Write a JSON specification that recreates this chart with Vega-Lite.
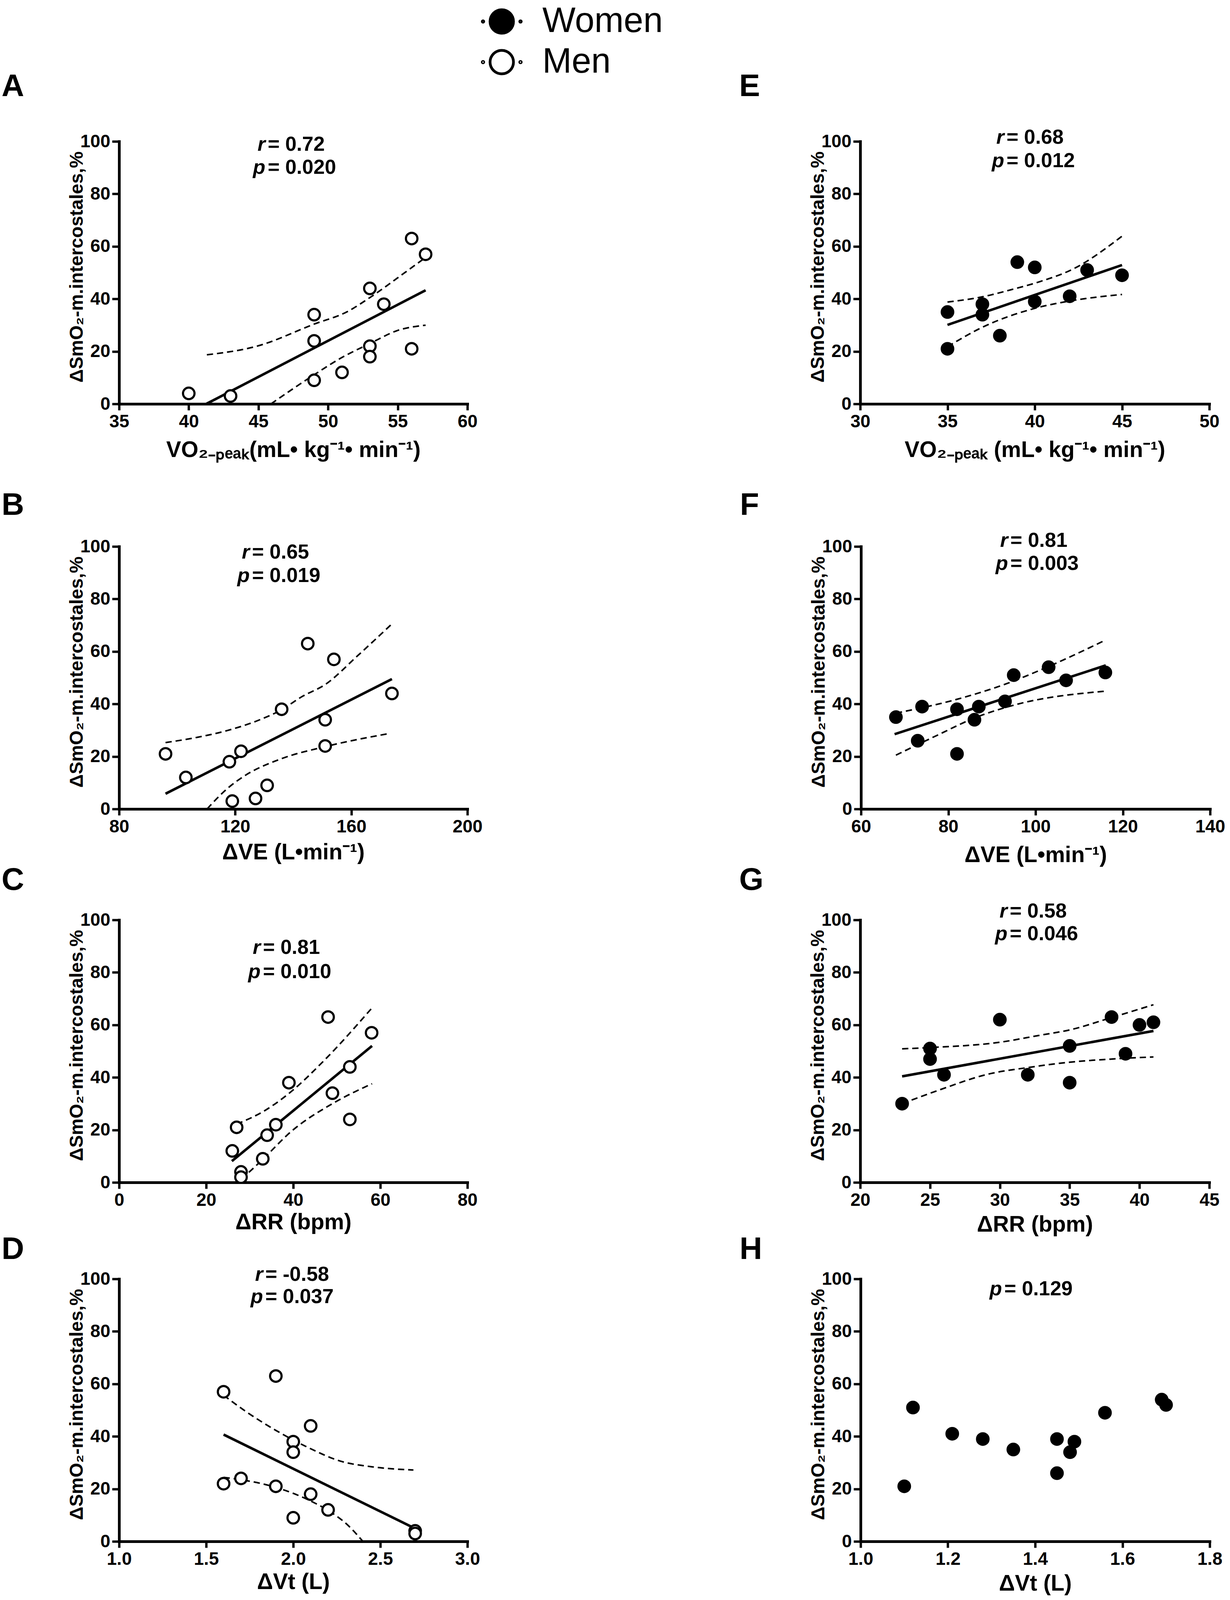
{
  "$schema": "https://vega.github.io/schema/vega-lite/v6.json",
  "description": "Correlations of delta SmO2 in m. intercostales with VO2-peak, VE, RR and Vt, men (A-D) and women (E-H).",
  "autosize": {"type": "pad"},
  "padding": {"left": 4, "top": 10, "right": 10, "bottom": 2},
  "background": "white",
  "datasets": {
    "points": [
      {"panel": "A", "sex": "Men", "x": 40, "y": 4},
      {"panel": "A", "sex": "Men", "x": 43, "y": 3},
      {"panel": "A", "sex": "Men", "x": 49, "y": 34},
      {"panel": "A", "sex": "Men", "x": 49, "y": 24},
      {"panel": "A", "sex": "Men", "x": 49, "y": 9},
      {"panel": "A", "sex": "Men", "x": 51, "y": 12},
      {"panel": "A", "sex": "Men", "x": 53, "y": 44},
      {"panel": "A", "sex": "Men", "x": 53, "y": 22},
      {"panel": "A", "sex": "Men", "x": 53, "y": 18},
      {"panel": "A", "sex": "Men", "x": 54, "y": 38},
      {"panel": "A", "sex": "Men", "x": 56, "y": 63},
      {"panel": "A", "sex": "Men", "x": 56, "y": 21},
      {"panel": "A", "sex": "Men", "x": 57, "y": 57},
      {"panel": "B", "sex": "Men", "x": 96, "y": 21},
      {"panel": "B", "sex": "Men", "x": 103, "y": 12},
      {"panel": "B", "sex": "Men", "x": 118, "y": 18},
      {"panel": "B", "sex": "Men", "x": 122, "y": 22},
      {"panel": "B", "sex": "Men", "x": 119, "y": 3},
      {"panel": "B", "sex": "Men", "x": 127, "y": 4},
      {"panel": "B", "sex": "Men", "x": 131, "y": 9},
      {"panel": "B", "sex": "Men", "x": 136, "y": 38},
      {"panel": "B", "sex": "Men", "x": 145, "y": 63},
      {"panel": "B", "sex": "Men", "x": 154, "y": 57},
      {"panel": "B", "sex": "Men", "x": 151, "y": 34},
      {"panel": "B", "sex": "Men", "x": 151, "y": 24},
      {"panel": "B", "sex": "Men", "x": 174, "y": 44},
      {"panel": "C", "sex": "Men", "x": 27, "y": 21},
      {"panel": "C", "sex": "Men", "x": 26, "y": 12},
      {"panel": "C", "sex": "Men", "x": 28, "y": 4},
      {"panel": "C", "sex": "Men", "x": 28, "y": 2},
      {"panel": "C", "sex": "Men", "x": 33, "y": 9},
      {"panel": "C", "sex": "Men", "x": 34, "y": 18},
      {"panel": "C", "sex": "Men", "x": 36, "y": 22},
      {"panel": "C", "sex": "Men", "x": 39, "y": 38},
      {"panel": "C", "sex": "Men", "x": 48, "y": 63},
      {"panel": "C", "sex": "Men", "x": 49, "y": 34},
      {"panel": "C", "sex": "Men", "x": 53, "y": 44},
      {"panel": "C", "sex": "Men", "x": 53, "y": 24},
      {"panel": "C", "sex": "Men", "x": 58, "y": 57},
      {"panel": "D", "sex": "Men", "x": 1.6, "y": 57},
      {"panel": "D", "sex": "Men", "x": 1.6, "y": 22},
      {"panel": "D", "sex": "Men", "x": 1.7, "y": 24},
      {"panel": "D", "sex": "Men", "x": 1.9, "y": 63},
      {"panel": "D", "sex": "Men", "x": 1.9, "y": 21},
      {"panel": "D", "sex": "Men", "x": 2.0, "y": 38},
      {"panel": "D", "sex": "Men", "x": 2.0, "y": 34},
      {"panel": "D", "sex": "Men", "x": 2.0, "y": 9},
      {"panel": "D", "sex": "Men", "x": 2.1, "y": 44},
      {"panel": "D", "sex": "Men", "x": 2.1, "y": 18},
      {"panel": "D", "sex": "Men", "x": 2.2, "y": 12},
      {"panel": "D", "sex": "Men", "x": 2.7, "y": 4},
      {"panel": "D", "sex": "Men", "x": 2.7, "y": 3},
      {"panel": "E", "sex": "Women", "x": 35, "y": 35},
      {"panel": "E", "sex": "Women", "x": 35, "y": 21},
      {"panel": "E", "sex": "Women", "x": 37, "y": 38},
      {"panel": "E", "sex": "Women", "x": 37, "y": 34},
      {"panel": "E", "sex": "Women", "x": 38, "y": 26},
      {"panel": "E", "sex": "Women", "x": 39, "y": 54},
      {"panel": "E", "sex": "Women", "x": 40, "y": 52},
      {"panel": "E", "sex": "Women", "x": 40, "y": 39},
      {"panel": "E", "sex": "Women", "x": 42, "y": 41},
      {"panel": "E", "sex": "Women", "x": 43, "y": 51},
      {"panel": "E", "sex": "Women", "x": 45, "y": 49},
      {"panel": "F", "sex": "Women", "x": 68, "y": 35},
      {"panel": "F", "sex": "Women", "x": 74, "y": 39},
      {"panel": "F", "sex": "Women", "x": 73, "y": 26},
      {"panel": "F", "sex": "Women", "x": 82, "y": 38},
      {"panel": "F", "sex": "Women", "x": 82, "y": 21},
      {"panel": "F", "sex": "Women", "x": 87, "y": 39},
      {"panel": "F", "sex": "Women", "x": 86, "y": 34},
      {"panel": "F", "sex": "Women", "x": 93, "y": 41},
      {"panel": "F", "sex": "Women", "x": 95, "y": 51},
      {"panel": "F", "sex": "Women", "x": 103, "y": 54},
      {"panel": "F", "sex": "Women", "x": 107, "y": 49},
      {"panel": "F", "sex": "Women", "x": 116, "y": 52},
      {"panel": "G", "sex": "Women", "x": 23, "y": 30},
      {"panel": "G", "sex": "Women", "x": 25, "y": 51},
      {"panel": "G", "sex": "Women", "x": 25, "y": 47},
      {"panel": "G", "sex": "Women", "x": 26, "y": 41},
      {"panel": "G", "sex": "Women", "x": 30, "y": 62},
      {"panel": "G", "sex": "Women", "x": 32, "y": 41},
      {"panel": "G", "sex": "Women", "x": 35, "y": 52},
      {"panel": "G", "sex": "Women", "x": 35, "y": 38},
      {"panel": "G", "sex": "Women", "x": 38, "y": 63},
      {"panel": "G", "sex": "Women", "x": 39, "y": 49},
      {"panel": "G", "sex": "Women", "x": 40, "y": 60},
      {"panel": "G", "sex": "Women", "x": 41, "y": 61},
      {"panel": "H", "sex": "Women", "x": 1.10, "y": 21},
      {"panel": "H", "sex": "Women", "x": 1.12, "y": 51},
      {"panel": "H", "sex": "Women", "x": 1.21, "y": 41},
      {"panel": "H", "sex": "Women", "x": 1.28, "y": 39},
      {"panel": "H", "sex": "Women", "x": 1.35, "y": 35},
      {"panel": "H", "sex": "Women", "x": 1.45, "y": 39},
      {"panel": "H", "sex": "Women", "x": 1.45, "y": 26},
      {"panel": "H", "sex": "Women", "x": 1.48, "y": 34},
      {"panel": "H", "sex": "Women", "x": 1.49, "y": 38},
      {"panel": "H", "sex": "Women", "x": 1.56, "y": 49},
      {"panel": "H", "sex": "Women", "x": 1.69, "y": 54},
      {"panel": "H", "sex": "Women", "x": 1.70, "y": 52}
    ],
    "fit": [
      {"panel": "A", "x": 41.26, "y": 0}, {"panel": "A", "x": 57, "y": 43.3},
      {"panel": "B", "x": 96, "y": 5.8}, {"panel": "B", "x": 174, "y": 49.5},
      {"panel": "C", "x": 25.9, "y": 8.1}, {"panel": "C", "x": 58.1, "y": 52},
      {"panel": "D", "x": 1.6, "y": 40.7}, {"panel": "D", "x": 2.7, "y": 4.9},
      {"panel": "E", "x": 35, "y": 30.1}, {"panel": "E", "x": 45, "y": 52.9},
      {"panel": "F", "x": 67.7, "y": 28.5}, {"panel": "F", "x": 116.1, "y": 54.7},
      {"panel": "G", "x": 23, "y": 40.4}, {"panel": "G", "x": 41, "y": 57.7}
    ],
    "ci": [
      {"panel": "A", "bound": "upper", "x": 41.3, "y": 18.7},
      {"panel": "A", "bound": "upper", "x": 44.9, "y": 22},
      {"panel": "A", "bound": "upper", "x": 49, "y": 30.4},
      {"panel": "A", "bound": "upper", "x": 51.4, "y": 35.2},
      {"panel": "A", "bound": "upper", "x": 53, "y": 40.5},
      {"panel": "A", "bound": "upper", "x": 55.4, "y": 49.6},
      {"panel": "A", "bound": "upper", "x": 57, "y": 55.8},
      {"panel": "A", "bound": "lower", "x": 45.9, "y": 0},
      {"panel": "A", "bound": "lower", "x": 49, "y": 11.1},
      {"panel": "A", "bound": "lower", "x": 51, "y": 17.7},
      {"panel": "A", "bound": "lower", "x": 53, "y": 23},
      {"panel": "A", "bound": "lower", "x": 55, "y": 28},
      {"panel": "A", "bound": "lower", "x": 57, "y": 30},
      {"panel": "B", "bound": "upper", "x": 96, "y": 25.3},
      {"panel": "B", "bound": "upper", "x": 106, "y": 27.1},
      {"panel": "B", "bound": "upper", "x": 117.3, "y": 29.9},
      {"panel": "B", "bound": "upper", "x": 128.5, "y": 34},
      {"panel": "B", "bound": "upper", "x": 135.8, "y": 37.7},
      {"panel": "B", "bound": "upper", "x": 143, "y": 42.8},
      {"panel": "B", "bound": "upper", "x": 151, "y": 47.4},
      {"panel": "B", "bound": "upper", "x": 162.2, "y": 58.4},
      {"panel": "B", "bound": "upper", "x": 173.7, "y": 70.2},
      {"panel": "B", "bound": "lower", "x": 110.3, "y": 0},
      {"panel": "B", "bound": "lower", "x": 117.3, "y": 7.8},
      {"panel": "B", "bound": "lower", "x": 122.9, "y": 12.4},
      {"panel": "B", "bound": "lower", "x": 135.3, "y": 18.9},
      {"panel": "B", "bound": "lower", "x": 151.2, "y": 23.8},
      {"panel": "B", "bound": "lower", "x": 172.8, "y": 28.7},
      {"panel": "C", "bound": "upper", "x": 27, "y": 22.2},
      {"panel": "C", "bound": "upper", "x": 33.6, "y": 27.5},
      {"panel": "C", "bound": "upper", "x": 39.6, "y": 34.7},
      {"panel": "C", "bound": "upper", "x": 47, "y": 46.3},
      {"panel": "C", "bound": "upper", "x": 58.1, "y": 66.5},
      {"panel": "C", "bound": "lower", "x": 28.1, "y": 1.2},
      {"panel": "C", "bound": "lower", "x": 33, "y": 8.8},
      {"panel": "C", "bound": "lower", "x": 39.6, "y": 19.5},
      {"panel": "C", "bound": "lower", "x": 49.2, "y": 30.2},
      {"panel": "C", "bound": "lower", "x": 58.1, "y": 37.6},
      {"panel": "D", "bound": "upper", "x": 1.6, "y": 55.7},
      {"panel": "D", "bound": "upper", "x": 1.73, "y": 49.4},
      {"panel": "D", "bound": "upper", "x": 1.9, "y": 42.3},
      {"panel": "D", "bound": "upper", "x": 2.1, "y": 35.3},
      {"panel": "D", "bound": "upper", "x": 2.27, "y": 30.6},
      {"panel": "D", "bound": "upper", "x": 2.455, "y": 28.4},
      {"panel": "D", "bound": "upper", "x": 2.69, "y": 27.2},
      {"panel": "D", "bound": "lower", "x": 1.6, "y": 24.4},
      {"panel": "D", "bound": "lower", "x": 1.7, "y": 23.5},
      {"panel": "D", "bound": "lower", "x": 1.9, "y": 20.6},
      {"panel": "D", "bound": "lower", "x": 2.1, "y": 15.4},
      {"panel": "D", "bound": "lower", "x": 2.2, "y": 11.8},
      {"panel": "D", "bound": "lower", "x": 2.31, "y": 6.4},
      {"panel": "D", "bound": "lower", "x": 2.4, "y": 0},
      {"panel": "E", "bound": "upper", "x": 35, "y": 38.8},
      {"panel": "E", "bound": "upper", "x": 37, "y": 40.8},
      {"panel": "E", "bound": "upper", "x": 38.7, "y": 43.6},
      {"panel": "E", "bound": "upper", "x": 40.3, "y": 46.6},
      {"panel": "E", "bound": "upper", "x": 42.2, "y": 51.4},
      {"panel": "E", "bound": "upper", "x": 45, "y": 63.9},
      {"panel": "E", "bound": "lower", "x": 35, "y": 21.8},
      {"panel": "E", "bound": "lower", "x": 37, "y": 29.2},
      {"panel": "E", "bound": "lower", "x": 40, "y": 36.4},
      {"panel": "E", "bound": "lower", "x": 42, "y": 39.2},
      {"panel": "E", "bound": "lower", "x": 45, "y": 41.7},
      {"panel": "F", "bound": "upper", "x": 68, "y": 36.5},
      {"panel": "F", "bound": "upper", "x": 81.8, "y": 41.7},
      {"panel": "F", "bound": "upper", "x": 93.3, "y": 47.7},
      {"panel": "F", "bound": "upper", "x": 102.6, "y": 54},
      {"panel": "F", "bound": "upper", "x": 116.1, "y": 64.4},
      {"panel": "F", "bound": "lower", "x": 68, "y": 20.5},
      {"panel": "F", "bound": "lower", "x": 78, "y": 28.5},
      {"panel": "F", "bound": "lower", "x": 85.6, "y": 34.4},
      {"panel": "F", "bound": "lower", "x": 94.9, "y": 39.5},
      {"panel": "F", "bound": "lower", "x": 116, "y": 44.9},
      {"panel": "G", "bound": "upper", "x": 23, "y": 50.9},
      {"panel": "G", "bound": "upper", "x": 25.1, "y": 51.4},
      {"panel": "G", "bound": "upper", "x": 30, "y": 53.4},
      {"panel": "G", "bound": "upper", "x": 32.8, "y": 56},
      {"panel": "G", "bound": "upper", "x": 35, "y": 58.1},
      {"panel": "G", "bound": "upper", "x": 38, "y": 62.8},
      {"panel": "G", "bound": "upper", "x": 41, "y": 67.7},
      {"panel": "G", "bound": "lower", "x": 23, "y": 30},
      {"panel": "G", "bound": "lower", "x": 25.6, "y": 35.1},
      {"panel": "G", "bound": "lower", "x": 29.2, "y": 41.3},
      {"panel": "G", "bound": "lower", "x": 32, "y": 43.75},
      {"panel": "G", "bound": "lower", "x": 35, "y": 45.8},
      {"panel": "G", "bound": "lower", "x": 38, "y": 47},
      {"panel": "G", "bound": "lower", "x": 41, "y": 47.8}
    ],
    "annot": [
      {"panel": "A", "stat": "r", "value": "= 0.72"},
      {"panel": "A", "stat": "p", "value": "= 0.020"},
      {"panel": "B", "stat": "r", "value": "= 0.65"},
      {"panel": "B", "stat": "p", "value": "= 0.019"},
      {"panel": "C", "stat": "r", "value": "= 0.81"},
      {"panel": "C", "stat": "p", "value": "= 0.010"},
      {"panel": "D", "stat": "r", "value": "= -0.58"},
      {"panel": "D", "stat": "p", "value": "= 0.037"},
      {"panel": "E", "stat": "r", "value": "= 0.68"},
      {"panel": "E", "stat": "p", "value": "= 0.012"},
      {"panel": "F", "stat": "r", "value": "= 0.81"},
      {"panel": "F", "stat": "p", "value": "= 0.003"},
      {"panel": "G", "stat": "r", "value": "= 0.58"},
      {"panel": "G", "stat": "p", "value": "= 0.046"},
      {"panel": "H", "stat": "p", "value": "= 0.129"}
    ]
  },
  "spacing": 73,
  "vconcat": [
    {
      "spacing": 670,
      "hconcat": [
        {
          "width": 892, "height": 672,
          "title": {"text": "A", "dx": -301, "offset": 76},
          "encoding": {
            "x": {"type": "quantitative", "scale": {"domain": [35, 60], "nice": false, "zero": false},
                  "axis": {"title": "VO₂₋ₚₑₐₖ(mL• kg⁻¹• min⁻¹)", "values": [35, 40, 45, 50, 55, 60], "titlePadding": 22}},
            "y": {"type": "quantitative", "scale": {"domain": [0, 100], "nice": false},
                  "axis": {"title": "ΔSmO₂-m.intercostales,%", "values": [0, 20, 40, 60, 80, 100]}}
          },
          "layer": [
            {"data": {"name": "ci"}, "transform": [{"filter": "datum.panel === 'A'"}],
             "mark": {"type": "line", "color": "black", "strokeWidth": 4, "strokeDash": [16, 10], "interpolate": "monotone"},
             "encoding": {"x": {"field": "x"}, "y": {"field": "y"}, "detail": {"field": "bound"}}},
            {"data": {"name": "fit"}, "transform": [{"filter": "datum.panel === 'A'"}],
             "mark": {"type": "line", "color": "black", "strokeWidth": 6.5},
             "encoding": {"x": {"field": "x"}, "y": {"field": "y"}}},
            {"data": {"name": "points"}, "transform": [{"filter": "datum.panel === 'A'"}],
             "mark": {"type": "point", "shape": "circle", "filled": true, "size": 870, "stroke": "black", "strokeWidth": 5.5, "opacity": 1},
             "encoding": {"x": {"field": "x"}, "y": {"field": "y"}, "fill": {"field": "sex", "type": "nominal", "scale": {"domain": ["Women", "Men"], "range": ["black", "white"]}, "legend": {"title": null}}}},
            {"data": {"name": "annot"}, "transform": [{"filter": "datum.panel === 'A' && datum.stat === 'r'"}],
             "mark": {"type": "text", "align": "right", "baseline": "alphabetic", "fontStyle": "italic"},
             "encoding": {"x": {"datum": 45.5}, "y": {"datum": 96.5}, "text": {"field": "stat", "type": "nominal"}}},
            {"data": {"name": "annot"}, "transform": [{"filter": "datum.panel === 'A' && datum.stat === 'r'"}],
             "mark": {"type": "text", "align": "left", "baseline": "alphabetic", "dx": 6},
             "encoding": {"x": {"datum": 45.5}, "y": {"datum": 96.5}, "text": {"field": "value", "type": "nominal"}}},
            {"data": {"name": "annot"}, "transform": [{"filter": "datum.panel === 'A' && datum.stat === 'p'"}],
             "mark": {"type": "text", "align": "right", "baseline": "alphabetic", "fontStyle": "italic"},
             "encoding": {"x": {"datum": 45.5}, "y": {"datum": 87.6}, "text": {"field": "stat", "type": "nominal"}}},
            {"data": {"name": "annot"}, "transform": [{"filter": "datum.panel === 'A' && datum.stat === 'p'"}],
             "mark": {"type": "text", "align": "left", "baseline": "alphabetic", "dx": 6},
             "encoding": {"x": {"datum": 45.5}, "y": {"datum": 87.6}, "text": {"field": "value", "type": "nominal"}}}
          ]
        },
        {
          "width": 894, "height": 672,
          "title": {"text": "E", "dx": -310, "offset": 63},
          "encoding": {
            "x": {"type": "quantitative", "scale": {"domain": [30, 50], "nice": false, "zero": false},
                  "axis": {"title": "VO₂₋ₚₑₐₖ (mL• kg⁻¹• min⁻¹)", "values": [30, 35, 40, 45, 50], "titlePadding": 22}},
            "y": {"type": "quantitative", "scale": {"domain": [0, 100], "nice": false},
                  "axis": {"title": "ΔSmO₂-m.intercostales,%", "values": [0, 20, 40, 60, 80, 100]}}
          },
          "layer": [
            {"data": {"name": "ci"}, "transform": [{"filter": "datum.panel === 'E'"}],
             "mark": {"type": "line", "color": "black", "strokeWidth": 4, "strokeDash": [16, 10], "interpolate": "monotone"},
             "encoding": {"x": {"field": "x"}, "y": {"field": "y"}, "detail": {"field": "bound"}}},
            {"data": {"name": "fit"}, "transform": [{"filter": "datum.panel === 'E'"}],
             "mark": {"type": "line", "color": "black", "strokeWidth": 6.5},
             "encoding": {"x": {"field": "x"}, "y": {"field": "y"}}},
            {"data": {"name": "points"}, "transform": [{"filter": "datum.panel === 'E'"}],
             "mark": {"type": "point", "shape": "circle", "filled": true, "size": 870, "stroke": "black", "strokeWidth": 5.5, "opacity": 1},
             "encoding": {"x": {"field": "x"}, "y": {"field": "y"}, "fill": {"field": "sex", "type": "nominal", "scale": {"domain": ["Women", "Men"], "range": ["black", "white"]}, "legend": {"title": null}}}},
            {"data": {"name": "annot"}, "transform": [{"filter": "datum.panel === 'E' && datum.stat === 'r'"}],
             "mark": {"type": "text", "align": "right", "baseline": "alphabetic", "fontStyle": "italic"},
             "encoding": {"x": {"datum": 38.25}, "y": {"datum": 99.1}, "text": {"field": "stat", "type": "nominal"}}},
            {"data": {"name": "annot"}, "transform": [{"filter": "datum.panel === 'E' && datum.stat === 'r'"}],
             "mark": {"type": "text", "align": "left", "baseline": "alphabetic", "dx": 6},
             "encoding": {"x": {"datum": 38.25}, "y": {"datum": 99.1}, "text": {"field": "value", "type": "nominal"}}},
            {"data": {"name": "annot"}, "transform": [{"filter": "datum.panel === 'E' && datum.stat === 'p'"}],
             "mark": {"type": "text", "align": "right", "baseline": "alphabetic", "fontStyle": "italic"},
             "encoding": {"x": {"datum": 38.25}, "y": {"datum": 90.2}, "text": {"field": "stat", "type": "nominal"}}},
            {"data": {"name": "annot"}, "transform": [{"filter": "datum.panel === 'E' && datum.stat === 'p'"}],
             "mark": {"type": "text", "align": "left", "baseline": "alphabetic", "dx": 6},
             "encoding": {"x": {"datum": 38.25}, "y": {"datum": 90.2}, "text": {"field": "value", "type": "nominal"}}}
          ]
        }
      ]
    },
    {
      "spacing": -4,
      "vconcat": [
        {
          "spacing": 659,
          "hconcat": [
            {
              "width": 892, "height": 672,
              "title": {"text": "B", "dx": -301, "offset": 41},
              "encoding": {
                "x": {"type": "quantitative", "scale": {"domain": [80, 200], "nice": false, "zero": false},
                      "axis": {"title": "ΔVE (L•min⁻¹)", "values": [80, 120, 160, 200], "titlePadding": 15}},
                "y": {"type": "quantitative", "scale": {"domain": [0, 100], "nice": false},
                      "axis": {"title": "ΔSmO₂-m.intercostales,%", "values": [0, 20, 40, 60, 80, 100]}}
              },
              "layer": [
                {"data": {"name": "ci"}, "transform": [{"filter": "datum.panel === 'B'"}],
                 "mark": {"type": "line", "color": "black", "strokeWidth": 4, "strokeDash": [16, 10], "interpolate": "monotone"},
                 "encoding": {"x": {"field": "x"}, "y": {"field": "y"}, "detail": {"field": "bound"}}},
                {"data": {"name": "fit"}, "transform": [{"filter": "datum.panel === 'B'"}],
                 "mark": {"type": "line", "color": "black", "strokeWidth": 6.5},
                 "encoding": {"x": {"field": "x"}, "y": {"field": "y"}}},
                {"data": {"name": "points"}, "transform": [{"filter": "datum.panel === 'B'"}],
                 "mark": {"type": "point", "shape": "circle", "filled": true, "size": 870, "stroke": "black", "strokeWidth": 5.5, "opacity": 1},
                 "encoding": {"x": {"field": "x"}, "y": {"field": "y"}, "fill": {"field": "sex", "type": "nominal", "scale": {"domain": ["Women", "Men"], "range": ["black", "white"]}, "legend": {"title": null}}}},
                {"data": {"name": "annot"}, "transform": [{"filter": "datum.panel === 'B' && datum.stat === 'r'"}],
                 "mark": {"type": "text", "align": "right", "baseline": "alphabetic", "fontStyle": "italic"},
                 "encoding": {"x": {"datum": 125}, "y": {"datum": 95.4}, "text": {"field": "stat", "type": "nominal"}}},
                {"data": {"name": "annot"}, "transform": [{"filter": "datum.panel === 'B' && datum.stat === 'r'"}],
                 "mark": {"type": "text", "align": "left", "baseline": "alphabetic", "dx": 6},
                 "encoding": {"x": {"datum": 125}, "y": {"datum": 95.4}, "text": {"field": "value", "type": "nominal"}}},
                {"data": {"name": "annot"}, "transform": [{"filter": "datum.panel === 'B' && datum.stat === 'p'"}],
                 "mark": {"type": "text", "align": "right", "baseline": "alphabetic", "fontStyle": "italic"},
                 "encoding": {"x": {"datum": 125}, "y": {"datum": 86.5}, "text": {"field": "stat", "type": "nominal"}}},
                {"data": {"name": "annot"}, "transform": [{"filter": "datum.panel === 'B' && datum.stat === 'p'"}],
                 "mark": {"type": "text", "align": "left", "baseline": "alphabetic", "dx": 6},
                 "encoding": {"x": {"datum": 125}, "y": {"datum": 86.5}, "text": {"field": "value", "type": "nominal"}}}
              ]
            },
            {
              "width": 894, "height": 672,
              "title": {"text": "F", "dx": -310, "offset": 23},
              "encoding": {
                "x": {"type": "quantitative", "scale": {"domain": [60, 140], "nice": false, "zero": false},
                      "axis": {"title": "ΔVE (L•min⁻¹)", "values": [60, 80, 100, 120, 140], "titlePadding": 22}},
                "y": {"type": "quantitative", "scale": {"domain": [0, 100], "nice": false},
                      "axis": {"title": "ΔSmO₂-m.intercostales,%", "values": [0, 20, 40, 60, 80, 100]}}
              },
              "layer": [
                {"data": {"name": "ci"}, "transform": [{"filter": "datum.panel === 'F'"}],
                 "mark": {"type": "line", "color": "black", "strokeWidth": 4, "strokeDash": [16, 10], "interpolate": "monotone"},
                 "encoding": {"x": {"field": "x"}, "y": {"field": "y"}, "detail": {"field": "bound"}}},
                {"data": {"name": "fit"}, "transform": [{"filter": "datum.panel === 'F'"}],
                 "mark": {"type": "line", "color": "black", "strokeWidth": 6.5},
                 "encoding": {"x": {"field": "x"}, "y": {"field": "y"}}},
                {"data": {"name": "points"}, "transform": [{"filter": "datum.panel === 'F'"}],
                 "mark": {"type": "point", "shape": "circle", "filled": true, "size": 870, "stroke": "black", "strokeWidth": 5.5, "opacity": 1},
                 "encoding": {"x": {"field": "x"}, "y": {"field": "y"}, "fill": {"field": "sex", "type": "nominal", "scale": {"domain": ["Women", "Men"], "range": ["black", "white"]}, "legend": {"title": null}}}},
                {"data": {"name": "annot"}, "transform": [{"filter": "datum.panel === 'F' && datum.stat === 'r'"}],
                 "mark": {"type": "text", "align": "right", "baseline": "alphabetic", "fontStyle": "italic"},
                 "encoding": {"x": {"datum": 93.7}, "y": {"datum": 99.9}, "text": {"field": "stat", "type": "nominal"}}},
                {"data": {"name": "annot"}, "transform": [{"filter": "datum.panel === 'F' && datum.stat === 'r'"}],
                 "mark": {"type": "text", "align": "left", "baseline": "alphabetic", "dx": 6},
                 "encoding": {"x": {"datum": 93.7}, "y": {"datum": 99.9}, "text": {"field": "value", "type": "nominal"}}},
                {"data": {"name": "annot"}, "transform": [{"filter": "datum.panel === 'F' && datum.stat === 'p'"}],
                 "mark": {"type": "text", "align": "right", "baseline": "alphabetic", "fontStyle": "italic"},
                 "encoding": {"x": {"datum": 93.7}, "y": {"datum": 91.1}, "text": {"field": "stat", "type": "nominal"}}},
                {"data": {"name": "annot"}, "transform": [{"filter": "datum.panel === 'F' && datum.stat === 'p'"}],
                 "mark": {"type": "text", "align": "left", "baseline": "alphabetic", "dx": 6},
                 "encoding": {"x": {"datum": 93.7}, "y": {"datum": 91.1}, "text": {"field": "value", "type": "nominal"}}}
              ]
            }
          ]
        },
        {
          "spacing": -5,
          "vconcat": [
            {
              "spacing": 670,
              "hconcat": [
                {
                  "width": 892, "height": 672,
                  "title": {"text": "C", "dx": -301, "offset": 37},
                  "encoding": {
                    "x": {"type": "quantitative", "scale": {"domain": [0, 80], "nice": false},
                          "axis": {"title": "ΔRR (bpm)", "values": [0, 20, 40, 60, 80], "titlePadding": 6}},
                    "y": {"type": "quantitative", "scale": {"domain": [0, 100], "nice": false},
                          "axis": {"title": "ΔSmO₂-m.intercostales,%", "values": [0, 20, 40, 60, 80, 100]}}
                  },
                  "layer": [
                    {"data": {"name": "ci"}, "transform": [{"filter": "datum.panel === 'C'"}],
                     "mark": {"type": "line", "color": "black", "strokeWidth": 4, "strokeDash": [16, 10], "interpolate": "monotone"},
                     "encoding": {"x": {"field": "x"}, "y": {"field": "y"}, "detail": {"field": "bound"}}},
                    {"data": {"name": "fit"}, "transform": [{"filter": "datum.panel === 'C'"}],
                     "mark": {"type": "line", "color": "black", "strokeWidth": 6.5},
                     "encoding": {"x": {"field": "x"}, "y": {"field": "y"}}},
                    {"data": {"name": "points"}, "transform": [{"filter": "datum.panel === 'C'"}],
                     "mark": {"type": "point", "shape": "circle", "filled": true, "size": 870, "stroke": "black", "strokeWidth": 5.5, "opacity": 1},
                     "encoding": {"x": {"field": "x"}, "y": {"field": "y"}, "fill": {"field": "sex", "type": "nominal", "scale": {"domain": ["Women", "Men"], "range": ["black", "white"]}, "legend": {"title": null}}}},
                    {"data": {"name": "annot"}, "transform": [{"filter": "datum.panel === 'C' && datum.stat === 'r'"}],
                     "mark": {"type": "text", "align": "right", "baseline": "alphabetic", "fontStyle": "italic"},
                     "encoding": {"x": {"datum": 32.5}, "y": {"datum": 87}, "text": {"field": "stat", "type": "nominal"}}},
                    {"data": {"name": "annot"}, "transform": [{"filter": "datum.panel === 'C' && datum.stat === 'r'"}],
                     "mark": {"type": "text", "align": "left", "baseline": "alphabetic", "dx": 6},
                     "encoding": {"x": {"datum": 32.5}, "y": {"datum": 87}, "text": {"field": "value", "type": "nominal"}}},
                    {"data": {"name": "annot"}, "transform": [{"filter": "datum.panel === 'C' && datum.stat === 'p'"}],
                     "mark": {"type": "text", "align": "right", "baseline": "alphabetic", "fontStyle": "italic"},
                     "encoding": {"x": {"datum": 32.5}, "y": {"datum": 77.9}, "text": {"field": "stat", "type": "nominal"}}},
                    {"data": {"name": "annot"}, "transform": [{"filter": "datum.panel === 'C' && datum.stat === 'p'"}],
                     "mark": {"type": "text", "align": "left", "baseline": "alphabetic", "dx": 6},
                     "encoding": {"x": {"datum": 32.5}, "y": {"datum": 77.9}, "text": {"field": "value", "type": "nominal"}}}
                  ]
                },
                {
                  "width": 894, "height": 672,
                  "title": {"text": "G", "dx": -310, "offset": 12},
                  "encoding": {
                    "x": {"type": "quantitative", "scale": {"domain": [20, 45], "nice": false, "zero": false},
                          "axis": {"title": "ΔRR (bpm)", "values": [20, 25, 30, 35, 40, 45], "titlePadding": 12}},
                    "y": {"type": "quantitative", "scale": {"domain": [0, 100], "nice": false},
                          "axis": {"title": "ΔSmO₂-m.intercostales,%", "values": [0, 20, 40, 60, 80, 100]}}
                  },
                  "layer": [
                    {"data": {"name": "ci"}, "transform": [{"filter": "datum.panel === 'G'"}],
                     "mark": {"type": "line", "color": "black", "strokeWidth": 4, "strokeDash": [16, 10], "interpolate": "monotone"},
                     "encoding": {"x": {"field": "x"}, "y": {"field": "y"}, "detail": {"field": "bound"}}},
                    {"data": {"name": "fit"}, "transform": [{"filter": "datum.panel === 'G'"}],
                     "mark": {"type": "line", "color": "black", "strokeWidth": 6.5},
                     "encoding": {"x": {"field": "x"}, "y": {"field": "y"}}},
                    {"data": {"name": "points"}, "transform": [{"filter": "datum.panel === 'G'"}],
                     "mark": {"type": "point", "shape": "circle", "filled": true, "size": 870, "stroke": "black", "strokeWidth": 5.5, "opacity": 1},
                     "encoding": {"x": {"field": "x"}, "y": {"field": "y"}, "fill": {"field": "sex", "type": "nominal", "scale": {"domain": ["Women", "Men"], "range": ["black", "white"]}, "legend": {"title": null}}}},
                    {"data": {"name": "annot"}, "transform": [{"filter": "datum.panel === 'G' && datum.stat === 'r'"}],
                     "mark": {"type": "text", "align": "right", "baseline": "alphabetic", "fontStyle": "italic"},
                     "encoding": {"x": {"datum": 30.54}, "y": {"datum": 100.9}, "text": {"field": "stat", "type": "nominal"}}},
                    {"data": {"name": "annot"}, "transform": [{"filter": "datum.panel === 'G' && datum.stat === 'r'"}],
                     "mark": {"type": "text", "align": "left", "baseline": "alphabetic", "dx": 6},
                     "encoding": {"x": {"datum": 30.54}, "y": {"datum": 100.9}, "text": {"field": "value", "type": "nominal"}}},
                    {"data": {"name": "annot"}, "transform": [{"filter": "datum.panel === 'G' && datum.stat === 'p'"}],
                     "mark": {"type": "text", "align": "right", "baseline": "alphabetic", "fontStyle": "italic"},
                     "encoding": {"x": {"datum": 30.54}, "y": {"datum": 92.2}, "text": {"field": "stat", "type": "nominal"}}},
                    {"data": {"name": "annot"}, "transform": [{"filter": "datum.panel === 'G' && datum.stat === 'p'"}],
                     "mark": {"type": "text", "align": "left", "baseline": "alphabetic", "dx": 6},
                     "encoding": {"x": {"datum": 30.54}, "y": {"datum": 92.2}, "text": {"field": "value", "type": "nominal"}}}
                  ]
                }
              ]
            },
            {
              "spacing": 665,
              "hconcat": [
                {
                  "width": 892, "height": 672,
                  "title": {"text": "D", "dx": -301, "offset": -3},
                  "encoding": {
                    "x": {"type": "quantitative", "scale": {"domain": [1, 3], "nice": false, "zero": false},
                          "axis": {"title": "ΔVt (L)", "values": [1, 1.5, 2, 2.5, 3], "format": ".1f", "titlePadding": 8}},
                    "y": {"type": "quantitative", "scale": {"domain": [0, 100], "nice": false},
                          "axis": {"title": "ΔSmO₂-m.intercostales,%", "values": [0, 20, 40, 60, 80, 100]}}
                  },
                  "layer": [
                    {"data": {"name": "ci"}, "transform": [{"filter": "datum.panel === 'D'"}],
                     "mark": {"type": "line", "color": "black", "strokeWidth": 4, "strokeDash": [16, 10], "interpolate": "monotone"},
                     "encoding": {"x": {"field": "x"}, "y": {"field": "y"}, "detail": {"field": "bound"}}},
                    {"data": {"name": "fit"}, "transform": [{"filter": "datum.panel === 'D'"}],
                     "mark": {"type": "line", "color": "black", "strokeWidth": 6.5},
                     "encoding": {"x": {"field": "x"}, "y": {"field": "y"}}},
                    {"data": {"name": "points"}, "transform": [{"filter": "datum.panel === 'D'"}],
                     "mark": {"type": "point", "shape": "circle", "filled": true, "size": 870, "stroke": "black", "strokeWidth": 5.5, "opacity": 1},
                     "encoding": {"x": {"field": "x"}, "y": {"field": "y"}, "fill": {"field": "sex", "type": "nominal", "scale": {"domain": ["Women", "Men"], "range": ["black", "white"]}, "legend": {"title": null}}}},
                    {"data": {"name": "annot"}, "transform": [{"filter": "datum.panel === 'D' && datum.stat === 'r'"}],
                     "mark": {"type": "text", "align": "right", "baseline": "alphabetic", "fontStyle": "italic"},
                     "encoding": {"x": {"datum": 1.826}, "y": {"datum": 99.3}, "text": {"field": "stat", "type": "nominal"}}},
                    {"data": {"name": "annot"}, "transform": [{"filter": "datum.panel === 'D' && datum.stat === 'r'"}],
                     "mark": {"type": "text", "align": "left", "baseline": "alphabetic", "dx": 6},
                     "encoding": {"x": {"datum": 1.826}, "y": {"datum": 99.3}, "text": {"field": "value", "type": "nominal"}}},
                    {"data": {"name": "annot"}, "transform": [{"filter": "datum.panel === 'D' && datum.stat === 'p'"}],
                     "mark": {"type": "text", "align": "right", "baseline": "alphabetic", "fontStyle": "italic"},
                     "encoding": {"x": {"datum": 1.826}, "y": {"datum": 90.8}, "text": {"field": "stat", "type": "nominal"}}},
                    {"data": {"name": "annot"}, "transform": [{"filter": "datum.panel === 'D' && datum.stat === 'p'"}],
                     "mark": {"type": "text", "align": "left", "baseline": "alphabetic", "dx": 6},
                     "encoding": {"x": {"datum": 1.826}, "y": {"datum": 90.8}, "text": {"field": "value", "type": "nominal"}}}
                  ]
                },
                {
                  "width": 894, "height": 672,
                  "title": {"text": "H", "dx": -310, "offset": 11},
                  "encoding": {
                    "x": {"type": "quantitative", "scale": {"domain": [1, 1.8], "nice": false, "zero": false},
                          "axis": {"title": "ΔVt (L)", "values": [1, 1.2, 1.4, 1.6, 1.8], "format": ".1f", "titlePadding": 12}},
                    "y": {"type": "quantitative", "scale": {"domain": [0, 100], "nice": false},
                          "axis": {"title": "ΔSmO₂-m.intercostales,%", "values": [0, 20, 40, 60, 80, 100]}}
                  },
                  "layer": [
                    {"data": {"name": "points"}, "transform": [{"filter": "datum.panel === 'H'"}],
                     "mark": {"type": "point", "shape": "circle", "filled": true, "size": 870, "stroke": "black", "strokeWidth": 5.5, "opacity": 1},
                     "encoding": {"x": {"field": "x"}, "y": {"field": "y"}, "fill": {"field": "sex", "type": "nominal", "scale": {"domain": ["Women", "Men"], "range": ["black", "white"]}, "legend": {"title": null}}}},
                    {"data": {"name": "annot"}, "transform": [{"filter": "datum.panel === 'H' && datum.stat === 'p'"}],
                     "mark": {"type": "text", "align": "right", "baseline": "alphabetic", "fontStyle": "italic"},
                     "encoding": {"x": {"datum": 1.324}, "y": {"datum": 93.75}, "text": {"field": "stat", "type": "nominal"}}},
                    {"data": {"name": "annot"}, "transform": [{"filter": "datum.panel === 'H' && datum.stat === 'p'"}],
                     "mark": {"type": "text", "align": "left", "baseline": "alphabetic", "dx": 6},
                     "encoding": {"x": {"datum": 1.324}, "y": {"datum": 93.75}, "text": {"field": "value", "type": "nominal"}}}
                  ]
                }
              ]
            }
          ]
        }
      ]
    }
  ],
  "resolve": {"scale": {"fill": "shared"}, "legend": {"fill": "shared"}},
  "config": {
    "font": "Liberation Sans",
    "view": {"stroke": null},
    "axis": {
      "grid": false,
      "domainColor": "black", "domainWidth": 7, "domainCap": "square",
      "tickColor": "black", "tickWidth": 6,
      "labelFont": "Liberation Sans Narrow, Arial Narrow, Liberation Sans", "labelFontSize": 46, "labelFontWeight": "bold", "labelColor": "black",
      "labelFlush": false, "labelOverlap": false,
      "titleFont": "Liberation Sans", "titleFontSize": 57, "titleFontWeight": "bold", "titleColor": "black"
    },
    "axisX": {"tickSize": 16, "labelPadding": 7},
    "axisY": {"tickSize": 18, "labelPadding": 5, "titlePadding": -16, "titleY": 321, "titleFontSize": 48},
    "title": {"font": "Liberation Sans", "fontSize": 80, "fontWeight": "bold", "color": "black", "anchor": "start", "frame": "group", "baseline": "alphabetic"},
    "text": {"font": "Liberation Sans", "fontSize": 52, "fontWeight": "bold", "color": "black"},
    "legend": {
      "orient": "none", "legendX": 935, "legendY": -352, "padding": 0,
      "direction": "vertical",
      "symbolType": "M -1 0 A 1 1 0 1 0 1 0 A 1 1 0 1 0 -1 0 Z M -1.66 0 A 0.06 0.06 0 1 0 -1.54 0 A 0.06 0.06 0 1 0 -1.66 0 Z M 1.54 0 A 0.06 0.06 0 1 0 1.66 0 A 0.06 0.06 0 1 0 1.54 0 Z",
      "symbolSize": 3600, "symbolStrokeColor": "black", "symbolStrokeWidth": 7,
      "labelFont": "Liberation Sans", "labelFontSize": 90, "labelFontWeight": "normal", "labelColor": "black",
      "labelOffset": 59, "labelLimit": 0, "rowPadding": 14
    }
  }
}
